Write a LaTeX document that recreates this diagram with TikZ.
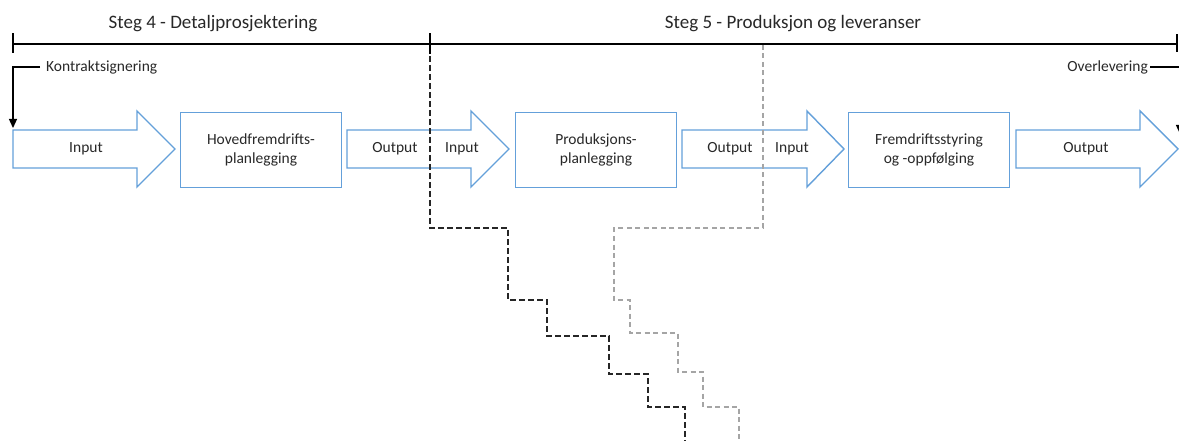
\documentclass[tikz,border=0pt]{standalone}
\usepackage{fontspec}
\setmainfont{Carlito}
\usetikzlibrary{arrows.meta}
\definecolor{flowblue}{RGB}{100,160,218}
\definecolor{inktext}{RGB}{40,40,40}
\definecolor{laterdash}{RGB}{165,165,165}
\tikzset{
  lbl/.style={font=\fontsize{15.5}{17}\selectfont, text=inktext, align=center, inner sep=0pt},
  phase/.style={font=\fontsize{19}{21}\selectfont, text=inktext, inner sep=0pt},
  procbox/.style={draw=flowblue, line width=1.4pt, minimum width=161pt, minimum height=75pt,
    align=center, font=\fontsize{15.5}{19.5}\selectfont, text=inktext},
  flowarr/.style={draw=flowblue, line width=1.4pt, fill=white, line join=miter},
  timeline/.style={line width=1.3pt, black},
  milestone/.style={line width=1.3pt, black, -{Triangle[width=8pt,length=9pt]}},
  nowdash/.style={line width=1.4pt, black!85, dash pattern=on 6pt off 3pt},
  nextdash/.style={line width=1.2pt, laterdash, dash pattern=on 5pt off 3.5pt},
}
% block arrow: tail x, head-start x, tip x
\newcommand\flowblock[3]{%
  \draw[flowarr] (#1,130) -- (#2,130) -- (#2,111) -- (#3,149) -- (#2,187) -- (#2,168) -- (#1,168) -- cycle;}
\begin{document}
\begin{tikzpicture}[x=1pt,y=-1pt]
\useasboundingbox (0,0) rectangle (1179,441);

% phase timeline
\coordinate (t0) at (13,44);
\coordinate (t1) at (430,44);
\coordinate (t2) at (1177,44);
\draw[timeline] (t0) -- (t2);
\draw[timeline] ([yshift=-9pt]t0) -- ([yshift=11pt]t0);
\draw[timeline] ([yshift=-10pt]t1) -- ([yshift=11pt]t1);
\draw[timeline] ([yshift=-8pt]t2) -- ([yshift=10pt]t2);
\node[phase] (steg4) at (213,24) {Steg 4 - Detaljprosjektering};
\node[phase] (steg5) at (793,24) {Steg 5 - Produksjon og leveranser};

% flow
\flowblock{13}{137}{175}
\flowblock{347}{471}{509}
\flowblock{682}{807}{844}
\flowblock{1016}{1140}{1178}

\node[procbox] (hfp) at (261,150) {Hovedfremdrifts-\\planlegging};
\node[procbox] (pp)  at (596,150) {Produksjons-\\planlegging};
\node[procbox] (fs)  at (929,150) {Fremdriftsstyring\\og -oppfølging};

\node[lbl] (in1)  at (86,149)   {Input};
\node[lbl] (out1) at (395,149)  {Output};
\node[lbl] (in2)  at (462,149)  {Input};
\node[lbl] (out2) at (730,149)  {Output};
\node[lbl] (in3)  at (792,149)  {Input};
\node[lbl] (out3) at (1086,149) {Output};

% milestones
\node[lbl, anchor=west] (kontrakt) at (46,67) {Kontraktsignering};
\coordinate (kstart) at (13,128);
\draw[milestone] ([xshift=-6pt]kontrakt.west) -| (kstart);
\node[lbl, anchor=east] (overlev) at (1148,67) {Overlevering};
\coordinate (oend) at (1180,134);
\draw[milestone] ([xshift=2pt]overlev.east) -| (oend);

% schedule steps
\coordinate (b0) at (430,56);
\coordinate (b1) at (685,441);
\draw[nowdash] (b0) |- (508,228) |- (547,300) |- (609,336) |- (648,374) |- (685,407) -- (b1);
\coordinate (g0) at (763,45);
\coordinate (g1) at (739,441);
\draw[nextdash] (g0) |- (614,228) |- (630,300) |- (678,333) |- (703,372) |- (739,407) -- (g1);
\end{tikzpicture}
\end{document}
